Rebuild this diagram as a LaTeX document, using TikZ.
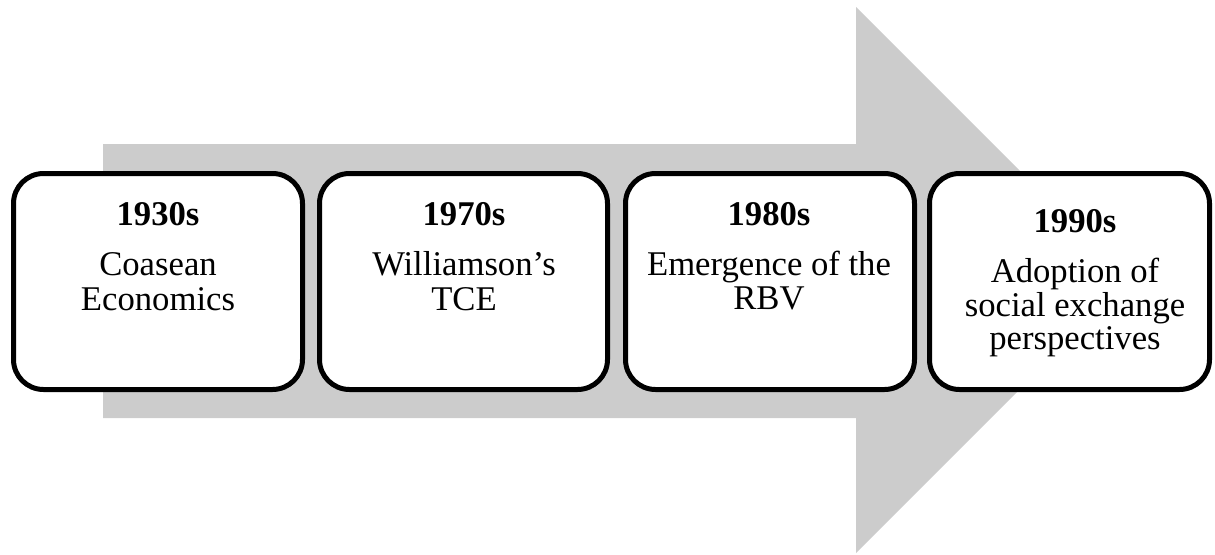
\documentclass[tikz,border=0pt]{standalone}
\usepackage{fontspec}
\setmainfont{Liberation Serif}
\definecolor{arrowgray}{RGB}{204,204,204}
\begin{document}
\begin{tikzpicture}[x=0.75pt,y=-0.75pt,
  stage/.style={draw=black, line width=3.75pt, rounded corners=22.5pt,
    fill=white, minimum height=162pt, inner sep=0pt},
  yeartext/.style={anchor=base, inner sep=0pt,
    font=\fontsize{26}{26}\selectfont\bfseries},
  bodytext/.style={anchor=base, inner sep=0pt,
    font=\fontsize{26}{26}\selectfont}]
\useasboundingbox (0,0) rectangle (1215,554);

% broad grey timeline arrow behind the stages
\fill[arrowgray] (103,144) -- (856,144) -- (856,7) -- (1129,280)
  -- (856,553) -- (856,418) -- (103,418) -- cycle;

% stage boxes
\node[stage, minimum width=216.75pt] (s1) at (158,281.5) {};
\node[stage, minimum width=216pt]    (s2) at (463.5,281.5) {};
\node[stage, minimum width=216.75pt] (s3) at (770,281.5) {};
\node[stage, minimum width=210pt]    (s4) at (1069.5,281.5) {};

% 1930s
\node[yeartext] (y1) at (158,225) {1930s};
\node[bodytext] (t1a) at (158,275) {Coasean};
\node[bodytext] (t1b) at (158,310) {Economics};

% 1970s
\node[yeartext] (y2) at (464,225) {1970s};
\node[bodytext] (t2a) at (464,275) {Williamson’s};
\node[bodytext] (t2b) at (464,310) {TCE};

% 1980s
\node[yeartext] (y3) at (769,225) {1980s};
\node[bodytext] (t3a) at (769,275) {Emergence of the};
\node[bodytext] (t3b) at (769,309) {RBV};

% 1990s
\node[yeartext] (y4) at (1075,232) {1990s};
\node[bodytext] (t4a) at (1075,282) {Adoption of};
\node[bodytext] (t4b) at (1075,316) {social exchange};
\node[bodytext] (t4c) at (1075,349) {perspectives};
\end{tikzpicture}
\end{document}
